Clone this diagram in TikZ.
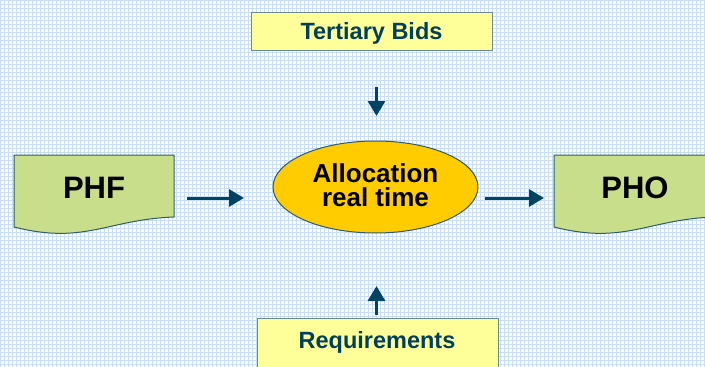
\documentclass[tikz,border=0pt]{standalone}
\usepackage{fontspec}
\setmainfont{Liberation Sans}
\usetikzlibrary{shapes.geometric,arrows.meta}
\definecolor{bgline}{HTML}{C8DEF7}
\definecolor{boxfill}{HTML}{FFFF99}
\definecolor{boxdraw}{HTML}{6A8A98}
\definecolor{ellfill}{HTML}{FFCC00}
\definecolor{elldraw}{HTML}{2A5A78}
\definecolor{docfill}{HTML}{C8DE8A}
\definecolor{docdraw}{HTML}{2E5C6E}
\definecolor{arrowc}{HTML}{004462}
\definecolor{navytext}{HTML}{00405E}
\tikzset{
  inbox/.style={draw=boxdraw, line width=1pt, fill=boxfill},
  boxtext/.style={text=navytext, font=\fontsize{23.5}{26}\selectfont\bfseries, inner sep=0pt},
  doctext/.style={text=black, font=\fontsize{31}{34}\selectfont\bfseries, inner sep=0pt},
  docshape/.style={draw=docdraw, line width=1pt, fill=docfill},
  flow/.style={draw=arrowc, line width=3pt, -{Triangle[width=17pt,length=15pt]}},
}
\begin{document}
\begin{tikzpicture}[x=1pt,y=-1pt]
\useasboundingbox (0,0) rectangle (705,367);
\clip (0,0) rectangle (705,367);
\fill[white] (0,0) rectangle (705,367);
\foreach \i in {0,4,...,706} {\draw[bgline, line width=1pt] (\i,0) -- (\i,367);}
\foreach \j in {0,4,...,368} {\draw[bgline, line width=1pt] (0,\j) -- (705,\j);}
% boxes
\draw[inbox] (251,12) rectangle (492,50);
\node[boxtext] (tb) at (371.5,33) {Tertiary Bids};
\draw[inbox] (257,318) rectangle (498,375);
\node[boxtext] (req) at (377,342) {Requirements};
% ellipse
\node[ellipse, draw=elldraw, line width=1pt, fill=ellfill, minimum width=205pt, minimum height=92pt, inner sep=0pt,
      align=center, font=\fontsize{26}{24.5}\selectfont\bfseries] (alloc) at (375.5,187) {};
\node[align=center, inner sep=0pt, font=\fontsize{26}{24.5}\selectfont\bfseries] (alloctext) at (375.5,185) {Allocation\\[-1pt]real time};
% documents
\draw[docshape] (14,155) -- (174,155) -- (174,217)
  .. controls (120,219) and (95,236) .. (50,233)
  .. controls (35,232) and (22,229) .. (14,227) -- cycle;
\node[doctext] (phf) at (94,188) {PHF};
\draw[docshape] (554,155) -- (714,155) -- (714,217)
  .. controls (660,219) and (635,236) .. (590,233)
  .. controls (575,232) and (562,229) .. (554,227) -- cycle;
\node[doctext] (pho) at (635,188) {PHO};
% arrow endpoints
\coordinate (a1s) at (187,198); \coordinate (a1e) at (244,198);
\coordinate (a2s) at (485,198); \coordinate (a2e) at (544,198);
\coordinate (a3s) at (376.5,87); \coordinate (a3e) at (376.5,116);
\coordinate (a4s) at (376.5,315); \coordinate (a4e) at (376.5,286);
\draw[flow] (a1s) -- (a1e);
\draw[flow] (a2s) -- (a2e);
\draw[flow] (a3s) -- (a3e);
\draw[flow] (a4s) -- (a4e);
\end{tikzpicture}
\end{document}
